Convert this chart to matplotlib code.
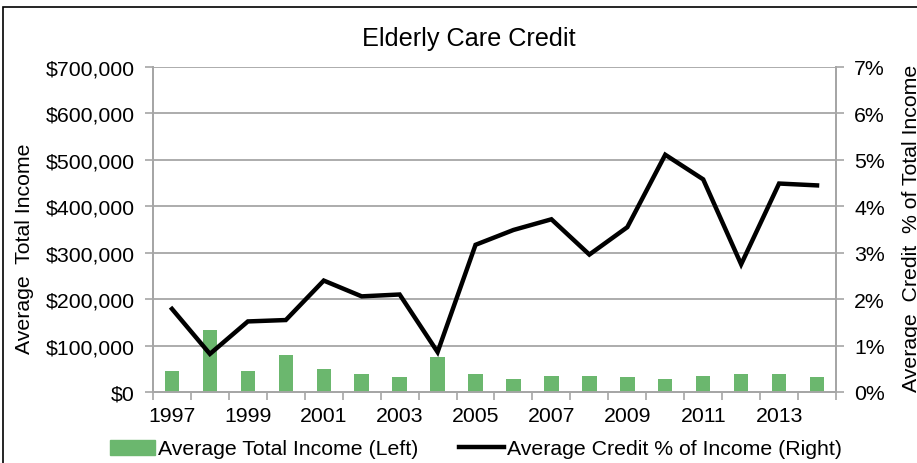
import matplotlib
matplotlib.use("Agg")
import matplotlib.pyplot as plt
from matplotlib.ticker import FuncFormatter, MultipleLocator, FixedLocator
from matplotlib.patches import Rectangle
from matplotlib.lines import Line2D
import numpy as np

plt.rcParams['font.family'] = ['Liberation Sans', 'DejaVu Sans']

years = list(range(1997, 2015))
avg_income = [45000, 134000, 45000, 79000, 49000, 38000, 32000, 76000, 38000,
              28000, 34500, 34500, 32000, 28000, 34500, 38000, 38000, 32000]
credit_pct = [1.79, 0.82, 1.52, 1.55, 2.40, 2.06, 2.10, 0.86, 3.17,
              3.49, 3.72, 2.96, 3.55, 5.11, 4.58, 2.75, 4.49, 4.45]
tick_labels = [str(y) for y in years[::2]]

title = "Elderly Care Credit"
left_label = "Average  Total Income"
right_label = "Average  Credit  % of Total Income"
bar_name = "Average Total Income (Left)"
line_name = "Average Credit % of Income (Right)"

W, H = 917, 464
fig = plt.figure(figsize=(W / 100, H / 100), dpi=100)
ax = fig.add_axes([153 / W, 1 - 393 / H, (836 - 153) / W, (393 - 68) / H])
ax2 = ax.twinx()

grid_c = '#a6a6a6'
fs = 15.3
x = np.arange(len(years))

ax.bar(x, avg_income, width=0.38, color='#6bb76e', zorder=3)
ax.set_ylim(0, 700000)
ax.set_xlim(-0.5, len(years) - 0.5)
ax.yaxis.set_major_locator(MultipleLocator(100000))
ax.yaxis.set_major_formatter(FuncFormatter(lambda v, p: "${:,.0f}".format(v)))
ax.grid(axis='y', color=grid_c, linewidth=1.3, zorder=0)
ax.set_axisbelow(True)

ax.xaxis.set_major_locator(FixedLocator(x[::2]))
ax.set_xticklabels(tick_labels)
ax.xaxis.set_minor_locator(FixedLocator(np.arange(-0.5, len(years), 1.0)))
ax.tick_params(axis='x', which='major', length=0, pad=10, labelsize=fs)
ax.tick_params(axis='x', which='minor', length=6, color=grid_c, width=1.2, direction='out')
ax.tick_params(axis='y', length=6, color=grid_c, width=1.2, labelsize=fs, pad=7)

ax2.plot(x, credit_pct, color='black', linewidth=3.2, zorder=4, solid_joinstyle='miter')
ax2.set_ylim(0, 7)
ax2.yaxis.set_major_locator(MultipleLocator(1))
ax2.yaxis.set_major_formatter(FuncFormatter(lambda v, p: "{:.0f}%".format(v)))
ax2.tick_params(axis='y', length=6, color=grid_c, width=1.2, labelsize=fs, pad=7)

for a in (ax, ax2):
    a.spines['top'].set_visible(False)
    for s in ('left', 'right', 'bottom'):
        a.spines[s].set_color(grid_c)
        a.spines[s].set_linewidth(1.3)

ax.set_ylabel(left_label, fontsize=fs)
ax.yaxis.set_label_coords(-119 / (836 - 153), (393 - 249) / (393 - 68))
ax2.set_ylabel(right_label, fontsize=fs, rotation=90)
ax2.yaxis.set_label_coords((902 - 153) / (836 - 153), (393 - 228) / (393 - 68))

fig.text(469 / W, 1 - 39 / H, title, fontsize=18.2, ha='center', va='center')

handles = [Rectangle((0, 0), 1, 1, color='#6bb76e'),
           Line2D([0], [0], color='black', linewidth=3.2)]
fig.legend(handles, [bar_name, line_name], loc='center', bbox_to_anchor=(476 / W, 1 - 450 / H),
           ncol=2, frameon=False, fontsize=fs, handlelength=2.1, handletextpad=0.15,
           columnspacing=1.9, borderaxespad=0)

fig.add_artist(Rectangle((3 / W, -0.1), 1.1, 1 - 8 / H + 0.1, transform=fig.transFigure,
                         fill=False, edgecolor='black', linewidth=1.2))

fig.savefig("out.png", dpi=100)
